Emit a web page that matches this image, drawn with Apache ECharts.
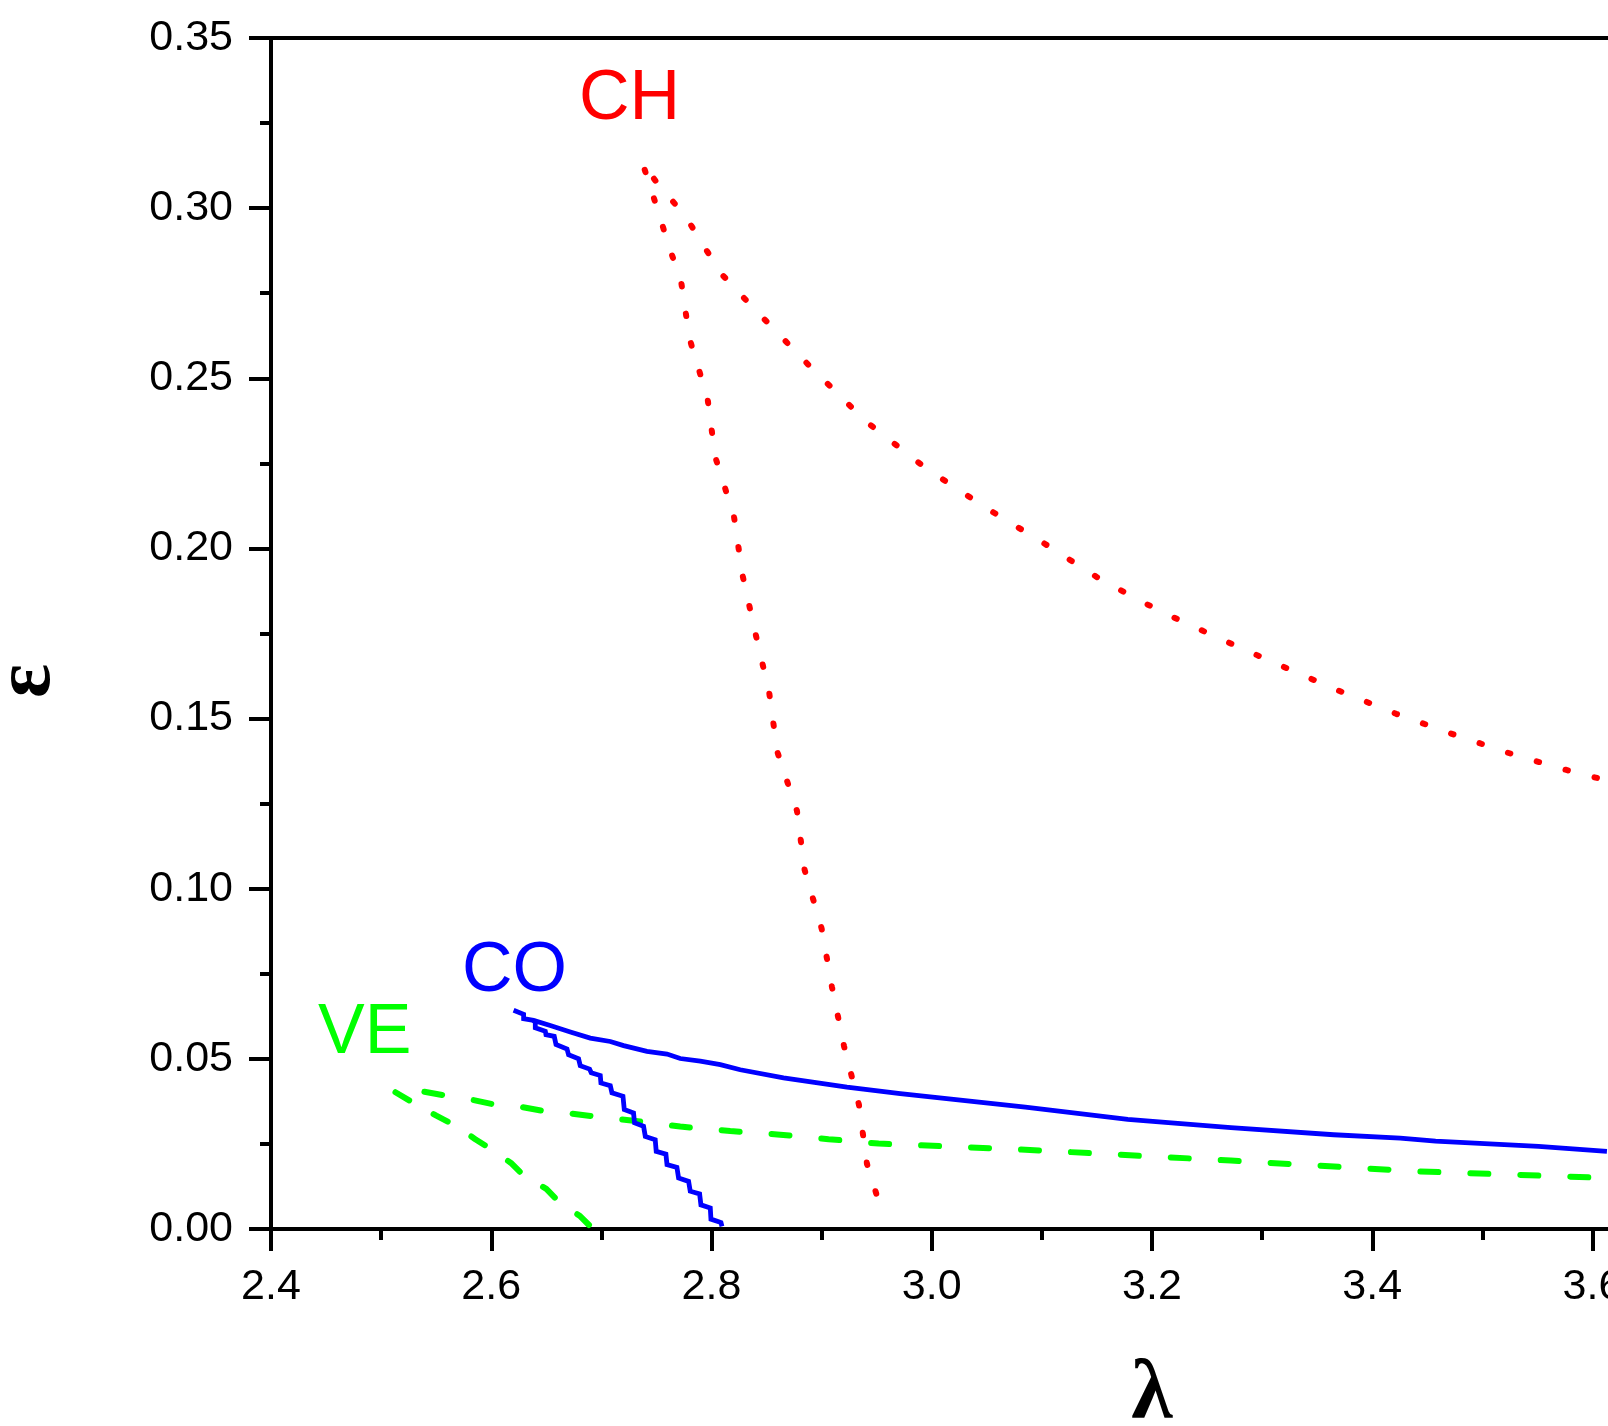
<!DOCTYPE html>
<html>
<head>
<meta charset="utf-8">
<title>λ–ε phase boundaries</title>
<script src="https://cdn.jsdelivr.net/npm/echarts@6/dist/echarts.min.js"></script>
<style>
  html, body { margin: 0; padding: 0; background: #fff; }
  #chart { width: 1608px; height: 1426px; }
</style>
</head>
<body>
<div id="chart"></div>
<script>
// Axis ranges and tick steps
const xRange = [2.4, 4.0];
const yRange = [0, 0.35];
const xStep = 0.2;
const yStep = 0.05;

// CH boundary: steep branch from the bottom up to the cusp, then the upper branch
const chPath = [
  [2.9496, 0.0104], [2.9412, 0.0191], [2.9339, 0.0365], [2.9203, 0.0538],
  [2.9094, 0.0711], [2.9000, 0.0883], [2.8845, 0.1056], [2.8776, 0.1229],
  [2.8597, 0.1403], [2.8524, 0.1576], [2.8400, 0.1749], [2.8282, 0.1921],
  [2.8204, 0.2094], [2.8034, 0.2269], [2.7964, 0.2441], [2.7801, 0.2616],
  [2.7723, 0.2787], [2.7628, 0.2874], [2.7544, 0.2960], [2.7460, 0.3047],
  [2.7372, 0.3134],
  [2.7526, 0.3065], [2.7759, 0.2979], [2.7925, 0.2891], [2.8098, 0.2804],
  [2.8356, 0.2715], [2.8876, 0.2541], [2.9402, 0.2373], [2.9938, 0.2238],
  [3.0474, 0.2123], [3.1005, 0.2018], [3.1542, 0.1907], [3.2077, 0.1815],
  [3.2609, 0.1736], [3.3145, 0.1659], [3.3681, 0.1584], [3.4217, 0.1514],
  [3.4749, 0.1452], [3.5284, 0.1394], [3.5815, 0.1344], [3.6073, 0.1323]
];

// CO boundary: upper smooth branch
const coUpper = [
  [2.6203, 0.0643], [2.6294, 0.0631], [2.6294, 0.0618], [2.6384, 0.0613],
  [2.6536, 0.0598], [2.6718, 0.0579], [2.6899, 0.0561], [2.7081, 0.0551],
  [2.7202, 0.0539], [2.7414, 0.0522], [2.7596, 0.0514], [2.7716, 0.0501],
  [2.7898, 0.0493], [2.8080, 0.0483], [2.8261, 0.0468], [2.8654, 0.0444],
  [2.9230, 0.0417], [2.9714, 0.0398], [3.0850, 0.0358], [3.1780, 0.0322],
  [3.2716, 0.0298], [3.3650, 0.0277], [3.4254, 0.0267], [3.4575, 0.0258],
  [3.5510, 0.0243], [3.6131, 0.0228]
];

// CO boundary: lower stepped branch down to the λ axis
const coStair = [
  [2.6384, 0.0613], [2.6400, 0.0607], [2.6400, 0.0591], [2.6491, 0.0581],
  [2.6497, 0.0571], [2.6572, 0.0566], [2.6588, 0.0542], [2.6688, 0.0529],
  [2.6702, 0.0512], [2.6793, 0.0500], [2.6808, 0.0480], [2.6893, 0.0470],
  [2.6908, 0.0459], [2.6990, 0.0451], [2.6996, 0.0429], [2.7081, 0.0421],
  [2.7096, 0.0400], [2.7196, 0.0390], [2.7208, 0.0351], [2.7292, 0.0341],
  [2.7301, 0.0312], [2.7383, 0.0302], [2.7399, 0.0272], [2.7489, 0.0262],
  [2.7498, 0.0228], [2.7586, 0.0220], [2.7596, 0.0189], [2.7686, 0.0181],
  [2.7701, 0.0150], [2.7792, 0.0140], [2.7807, 0.0111], [2.7892, 0.0103],
  [2.7904, 0.0071], [2.7989, 0.0062], [2.7995, 0.0029], [2.8086, 0.0019],
  [2.8095, 0.0008]
];

// VE boundary: lower branch from the cusp down to the λ axis
const veLower = [
  [2.5130, 0.0402], [2.5310, 0.0367], [2.5501, 0.0333], [2.5673, 0.0304],
  [2.5855, 0.0264], [2.6016, 0.0231], [2.6179, 0.0194], [2.6300, 0.0155],
  [2.6500, 0.0118], [2.6611, 0.0081], [2.6802, 0.0039], [2.6915, 0.0003]
];

// VE boundary: upper branch from the cusp to the right
const veUpper = [
  [2.5130, 0.0402], [2.5380, 0.0404], [2.5582, 0.0392], [2.5825, 0.0380],
  [2.6037, 0.0365], [2.6264, 0.0359], [2.6491, 0.0346], [2.6733, 0.0339],
  [2.6929, 0.0331], [2.7353, 0.0316], [2.7716, 0.0301], [2.8170, 0.0288],
  [2.8624, 0.0277], [2.9063, 0.0264], [2.9517, 0.0251], [3.0850, 0.0233],
  [3.2716, 0.0201], [3.4435, 0.0169], [3.6131, 0.0150]
];

// Region names with their colours
const regionNames = ['CH', 'CO', 'VE'];
const regionColors = ['#ff0000', '#0000ff', '#00ff00'];

const axisColor = '#000';
const sansFont = '"Liberation Sans", Arial, sans-serif';
const serifFont = '"Liberation Serif", "Times New Roman", serif';

const chart = echarts.init(document.getElementById('chart'), null, { renderer: 'canvas' });

const lineBase = { type: 'line', showSymbol: false, symbol: 'none', silent: true, animation: false, clip: true };
const coStyle = { color: regionColors[1], width: 4.8, type: 'solid', join: 'miter' };

chart.setOption({
  backgroundColor: '#fff',
  animation: false,
  grid: { left: 271, top: 38, bottom: 197, right: -425, containLabel: false, outerBoundsMode: 'none' },
  xAxis: [
    {
      type: 'value', position: 'bottom',
      min: xRange[0], max: xRange[1], interval: xStep,
      name: 'λ', nameLocation: 'middle', nameGap: 125,
      nameTextStyle: { fontFamily: serifFont, fontWeight: 'bold', fontSize: 84, color: axisColor },
      axisLine: { show: true, onZero: false, lineStyle: { color: axisColor, width: 4 } },
      axisTick: { show: true, inside: false, length: 22, lineStyle: { color: axisColor, width: 4 } },
      minorTick: { show: true, splitNumber: 2, length: 11, lineStyle: { color: axisColor, width: 4 } },
      axisLabel: { margin: 37, fontFamily: sansFont, fontSize: 43, color: axisColor,
                   formatter: v => v.toFixed(1) },
      splitLine: { show: false }
    },
    {
      type: 'value', position: 'top',
      min: xRange[0], max: xRange[1], interval: xStep,
      axisLine: { show: true, onZero: false, lineStyle: { color: axisColor, width: 4 } },
      axisTick: { show: false }, axisLabel: { show: false }, splitLine: { show: false }
    }
  ],
  yAxis: {
    type: 'value', position: 'left',
    min: yRange[0], max: yRange[1], interval: yStep,
    axisLine: { show: true, onZero: false, lineStyle: { color: axisColor, width: 4 } },
    axisTick: { show: true, inside: false, length: 22, lineStyle: { color: axisColor, width: 4 } },
    minorTick: { show: true, splitNumber: 2, length: 11, lineStyle: { color: axisColor, width: 4 } },
    axisLabel: { margin: 38, fontFamily: sansFont, fontSize: 43, color: axisColor,
                 formatter: v => v.toFixed(2) },
    splitLine: { show: false }
  },
  series: [
    Object.assign({}, lineBase, {
      name: 'VE', data: veLower, z: 3,
      lineStyle: { color: regionColors[2], width: 6, type: [16, 28], cap: 'round' }
    }),
    Object.assign({}, lineBase, {
      name: 'VE', data: veUpper, z: 3,
      lineStyle: { color: regionColors[2], width: 6, type: [18, 32], dashOffset: 21, cap: 'round' }
    }),
    Object.assign({}, lineBase, {
      name: 'CO', data: coUpper, z: 4,
      lineStyle: coStyle
    }),
    Object.assign({}, lineBase, {
      name: 'CO', data: coStair, z: 4,
      lineStyle: coStyle
    }),
    Object.assign({}, lineBase, {
      name: 'CH', data: chPath, z: 5,
      lineStyle: { color: regionColors[0], width: 6, type: [2.5, 27.5], cap: 'round' }
    })
  ],
  graphic: [
    { type: 'text', x: 579, y: 100, z: 10,
      style: { text: regionNames[0], fill: regionColors[0], font: '70px ' + sansFont,
               textAlign: 'left', textVerticalAlign: 'middle' } },
    { type: 'text', x: 462, y: 972, z: 10,
      style: { text: regionNames[1], fill: regionColors[1], font: '70px ' + sansFont,
               textAlign: 'left', textVerticalAlign: 'middle' } },
    { type: 'text', x: 318, y: 1034, z: 10,
      style: { text: regionNames[2], fill: regionColors[2], font: '70px ' + sansFont,
               textAlign: 'left', textVerticalAlign: 'middle' } },
    { type: 'text', x: 28, y: 681, rotation: Math.PI / 2, z: 10,
      style: { text: 'ε', fill: axisColor, font: 'bold 80px ' + serifFont,
               textAlign: 'center', textVerticalAlign: 'middle' } }
  ]
});
</script>
</body>
</html>
